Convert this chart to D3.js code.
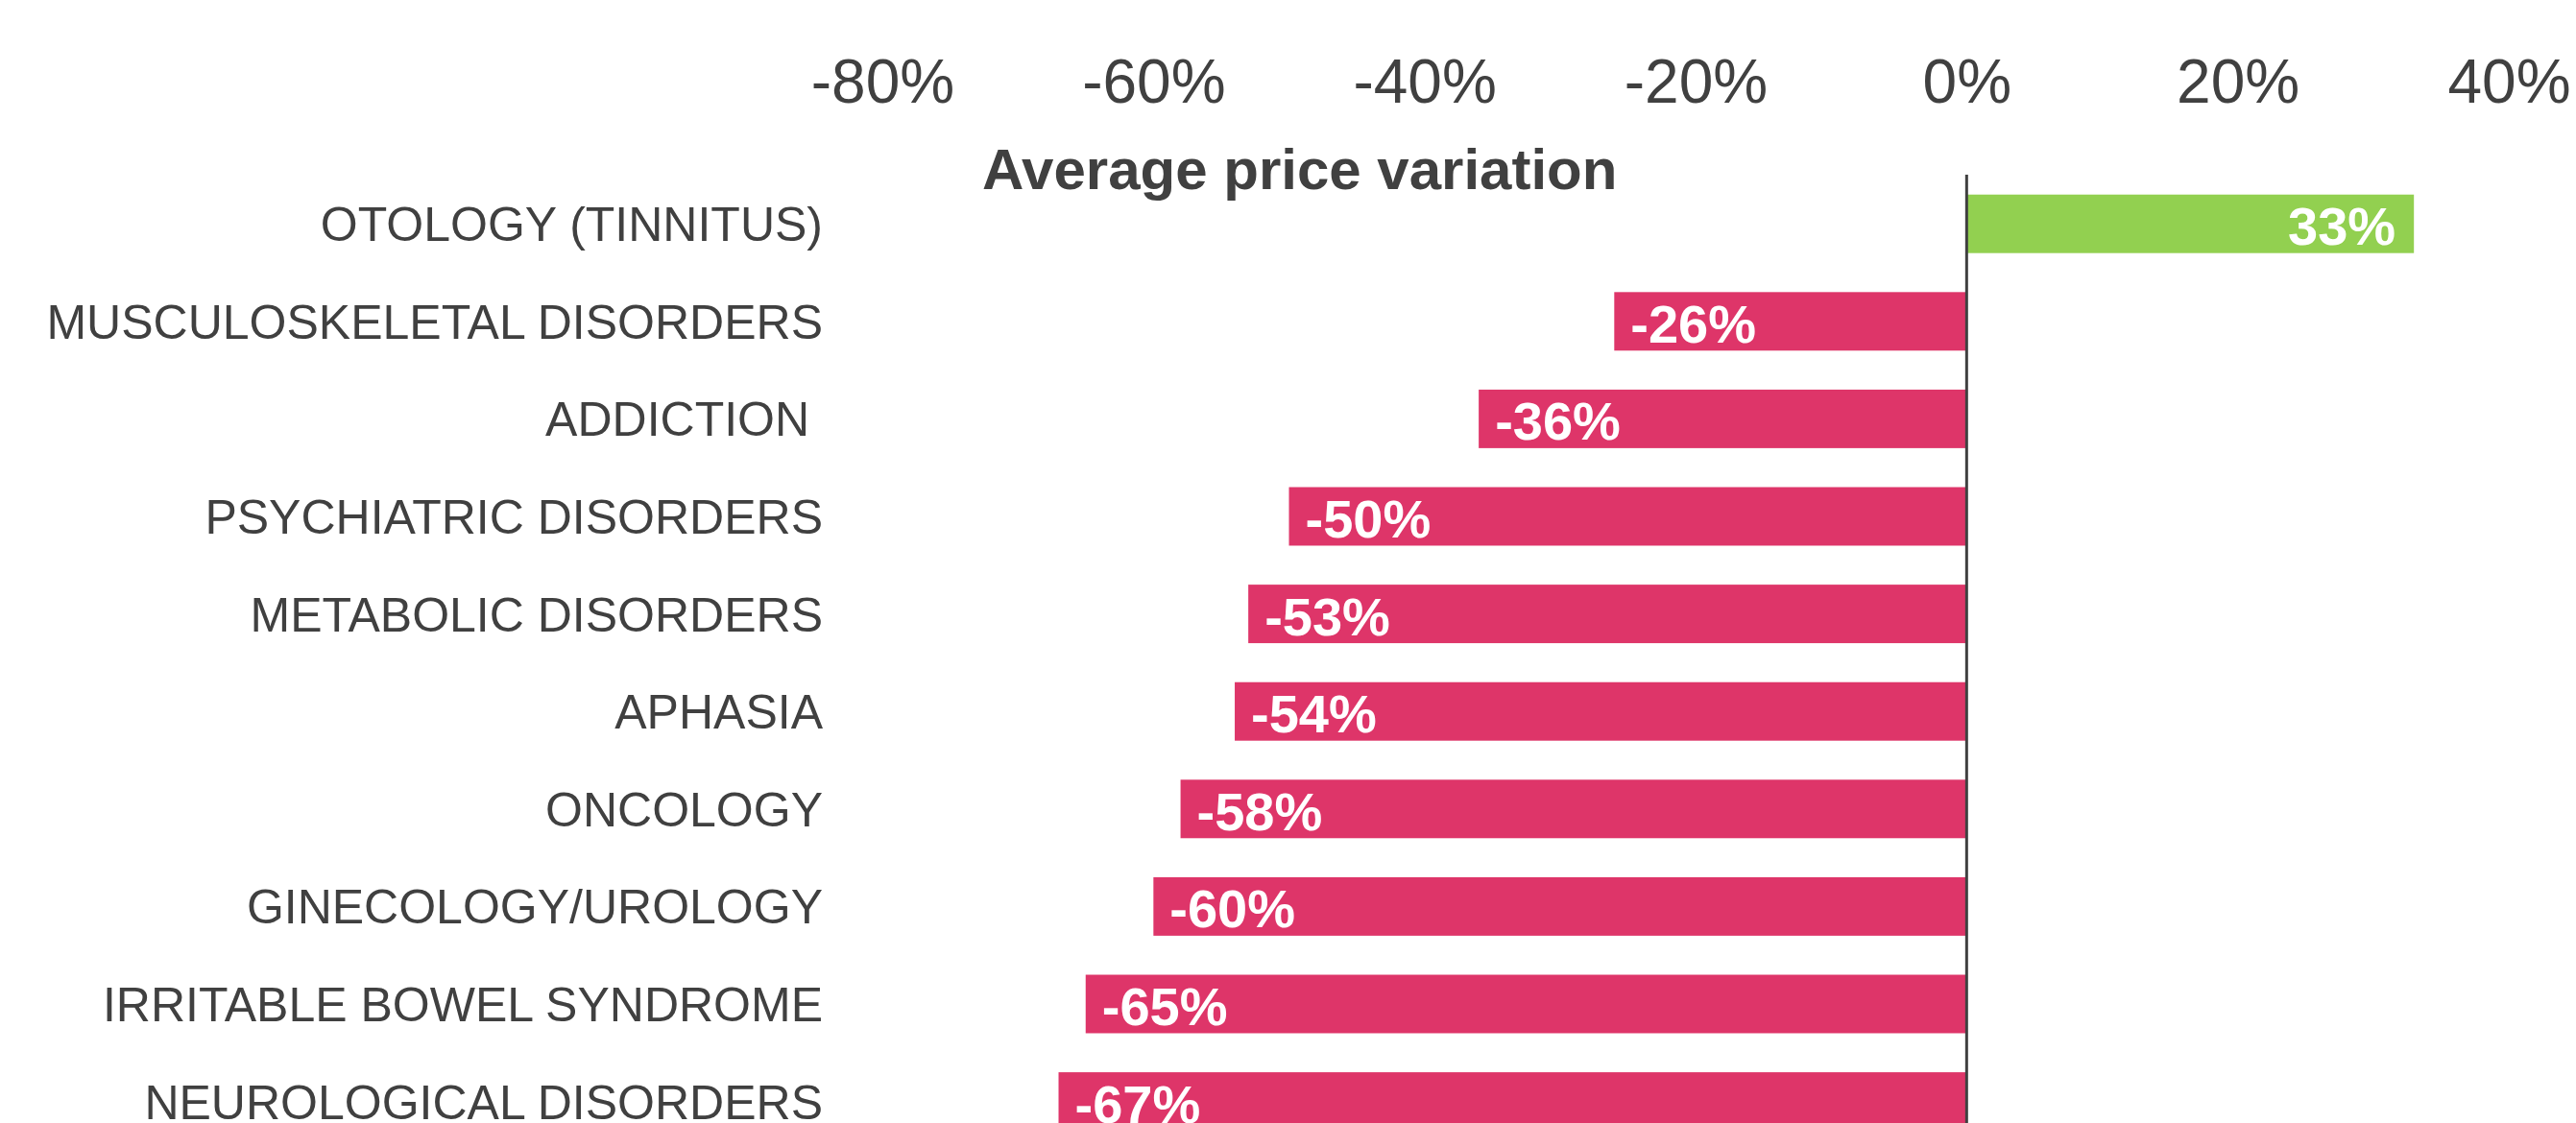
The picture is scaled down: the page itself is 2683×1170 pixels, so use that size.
<!doctype html>
<html lang="en">
<head>
  <meta charset="utf-8">
  <title>Average price variation</title>
  <style>
    * { margin: 0; padding: 0; box-sizing: border-box; }
    body { background: #fff; }
    svg { display: block; font-family: "Liberation Sans", Arial, sans-serif; }
    .cat { fill: #404040; font-size: 50px; white-space: pre; }
    .tick text { fill: #404040; font-size: 64px; }
    .title { fill: #404040; font-size: 60px; font-weight: bold; }
    .val { fill: #fff; font-size: 56px; font-weight: bold; }
  </style>
</head>
<body>
  <div id="container"></div>
  <script src="https://cdn.jsdelivr.net/npm/d3@7"></script>
  <script>
    const categories = [
      'OTOLOGY (TINNITUS)', 'MUSCULOSKELETAL DISORDERS', 'ADDICTION ',
      'PSYCHIATRIC DISORDERS', 'METABOLIC DISORDERS', 'APHASIA', 'ONCOLOGY',
      'GINECOLOGY/UROLOGY', 'IRRITABLE BOWEL SYNDROME', 'NEUROLOGICAL DISORDERS'
    ];
    const values = [33, -26, -36, -50, -53, -54, -58, -60, -65, -67];
    const tickValues = [-80, -60, -40, -20, 0, 20, 40];

    const W = 2683, H = 1170;
    const svg = d3.select('#container').append('svg')
      .attr('width', W).attr('height', H);

    const x = d3.scaleLinear().domain([-80, 40]).range([919, 2613]);
    const y = d3.scaleBand().domain(categories)
      .range([182.4, 1198.4]).paddingInner(0.4).paddingOuter(0.2);

    // top axis, labels only
    const ax = svg.append('g').attr('transform', 'translate(0,107)')
      .call(d3.axisTop(x).tickValues(tickValues).tickSize(0).tickPadding(0)
        .tickFormat(d => d + '%'));
    ax.select('.domain').remove();
    ax.selectAll('.tick text').attr('font-family', null).attr('font-size', null);

    svg.append('text').attr('class', 'title')
      .attr('x', 1023).attr('y', 197).text('Average price variation');

    // bars
    svg.selectAll('rect.bar').data(values).join('rect')
      .attr('class', 'bar')
      .attr('x', d => x(Math.min(0, d)))
      .attr('width', d => Math.abs(x(d) - x(0)))
      .attr('y', (d, i) => y(categories[i]))
      .attr('height', y.bandwidth())
      .attr('fill', d => d >= 0 ? '#92D050' : '#DE3569');

    // value labels inside bars
    svg.selectAll('text.val').data(values).join('text')
      .attr('class', 'val')
      .attr('x', d => d >= 0 ? x(d) - 19 : x(d) + 17)
      .attr('text-anchor', d => d >= 0 ? 'end' : 'start')
      .attr('y', (d, i) => y(categories[i]) + y.bandwidth() / 2 + 22)
      .text(d => d + '%');

    // category labels
    svg.selectAll('text.cat').data(categories).join('text')
      .attr('class', 'cat')
      .attr('x', 857)
      .attr('text-anchor', 'end')
      .attr('y', d => y(d) + y.bandwidth() / 2 + 18)
      .text(d => d);

    // zero line
    svg.append('line')
      .attr('x1', x(0)).attr('x2', x(0))
      .attr('y1', 182).attr('y2', H)
      .attr('stroke', '#404040').attr('stroke-width', 3);
  </script>
</body>
</html>
